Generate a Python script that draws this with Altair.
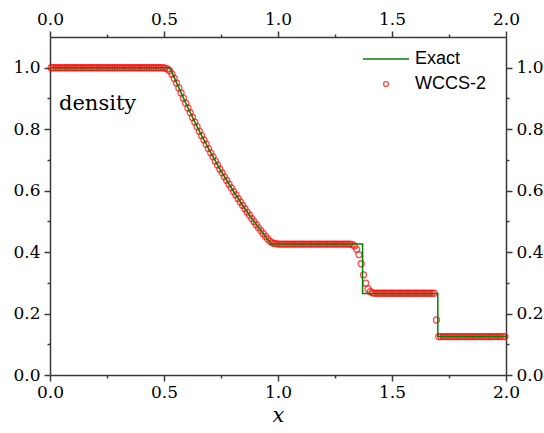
import altair as alt
import pandas as pd

# Exact Riemann solution (Sod tube, t = 0.4): breakpoints and rarefaction fan samples
exact_x = [0.0, 0.5267, 0.55, 0.60, 0.65, 0.70, 0.75, 0.80, 0.85, 0.90, 0.95,
           0.9719, 1.3710, 1.3710, 1.7009, 1.7009, 2.0]
exact_rho = [1.0, 1.0, 0.9597, 0.8775, 0.8010, 0.7300, 0.6640, 0.6030, 0.5465,
             0.4943, 0.4462, 0.4263, 0.4263, 0.2656, 0.2656, 0.125, 0.125]

# WCCS-2 cell averages on 200 uniform cells
n_cells = 200
cell_x = [round(0.005 + 0.01 * i, 3) for i in range(n_cells)]
wccs_rho = [
    1.0, 1.0, 1.0, 1.0, 1.0, 1.0, 1.0, 1.0, 1.0, 1.0,
    1.0, 1.0, 1.0, 1.0, 1.0, 1.0, 1.0, 1.0, 1.0, 1.0,
    1.0, 1.0, 1.0, 1.0, 1.0, 1.0, 1.0, 1.0, 1.0, 1.0,
    1.0, 1.0, 1.0, 1.0, 1.0, 1.0, 1.0, 1.0, 1.0, 1.0,
    1.0, 1.0, 1.0, 1.0, 1.0, 1.0, 1.0, 1.0, 1.0, 1.0,
    0.999, 0.996, 0.990, 0.979, 0.965, 0.950, 0.934, 0.918, 0.901, 0.885,
    0.869, 0.854, 0.838, 0.823, 0.808, 0.793, 0.779, 0.765, 0.751, 0.737,
    0.723, 0.710, 0.696, 0.683, 0.670, 0.658, 0.645, 0.633, 0.621, 0.609,
    0.597, 0.586, 0.574, 0.563, 0.552, 0.541, 0.530, 0.520, 0.509, 0.499,
    0.489, 0.479, 0.470, 0.460, 0.451, 0.443, 0.435, 0.430, 0.428, 0.427,
    0.426, 0.426, 0.426, 0.426, 0.426, 0.426, 0.426, 0.426, 0.426, 0.426,
    0.426, 0.426, 0.426, 0.426, 0.426, 0.426, 0.426, 0.426, 0.426, 0.426,
    0.426, 0.426, 0.426, 0.426, 0.426, 0.426, 0.426, 0.426, 0.426, 0.426,
    0.426, 0.426, 0.425, 0.420, 0.409, 0.392, 0.362, 0.326, 0.299, 0.280,
    0.271, 0.267, 0.266, 0.266, 0.266, 0.266, 0.266, 0.266, 0.266, 0.266,
    0.266, 0.266, 0.266, 0.266, 0.266, 0.266, 0.266, 0.266, 0.266, 0.266,
    0.266, 0.266, 0.266, 0.266, 0.266, 0.266, 0.266, 0.266, 0.266, 0.179,
    0.125, 0.125, 0.125, 0.125, 0.125, 0.125, 0.125, 0.125, 0.125, 0.125,
    0.125, 0.125, 0.125, 0.125, 0.125, 0.125, 0.125, 0.125, 0.125, 0.125,
    0.125, 0.125, 0.125, 0.125, 0.125, 0.125, 0.125, 0.125, 0.125, 0.125,
]

x_ticks = [0.0, 0.25, 0.5, 0.75, 1.0, 1.25, 1.5, 1.75, 2.0]
y_ticks = [0.0, 0.1, 0.2, 0.3, 0.4, 0.5, 0.6, 0.7, 0.8, 0.9, 1.0]

exact_df = pd.DataFrame({"x": exact_x, "rho": exact_rho, "order": range(len(exact_x))})
wccs_df = pd.DataFrame({"x": cell_x, "rho": wccs_rho})

SERIF = "DejaVu Serif"
SANS = "Liberation Sans"
FRAME = "#3a3a3a"
W, H = 456, 338
LABEL_SIZE = 17

x_minor = "abs(datum.value*2 - round(datum.value*2)) > 0.001"
y_minor = "abs(datum.value*5 - round(datum.value*5)) > 0.001"


def x_axis(orient, title=None):
    kw = dict(
        orient=orient, values=x_ticks, grid=False,
        labelExpr=f"{x_minor} ? '' : format(datum.value, '.1f')",
        tickSize={"condition": {"test": x_minor, "value": 3}, "value": 6},
        labelFont=SERIF, labelFontSize=LABEL_SIZE, labelColor="black",
        labelPadding=3, labelFlush=False, labelOverlap=False,
        tickColor=FRAME, tickWidth=1.5, domainColor=FRAME, domainWidth=1.5,
    )
    if title:
        kw.update(title=title, titleFont=SERIF, titleFontSize=21,
                  titleFontStyle="italic", titleFontWeight="normal",
                  titleColor="black", titlePadding=4)
    else:
        kw.update(title=None)
    return alt.Axis(**kw)


def y_axis(orient):
    return alt.Axis(
        orient=orient, values=y_ticks, grid=False, title=None,
        labelExpr=f"{y_minor} ? '' : format(datum.value, '.1f')",
        tickSize={"condition": {"test": y_minor, "value": 3}, "value": 6},
        labelFont=SERIF, labelFontSize=LABEL_SIZE, labelColor="black",
        labelPadding=4, labelOverlap=False,
        tickColor=FRAME, tickWidth=1.5, domainColor=FRAME, domainWidth=1.5,
    )


xs = alt.Scale(domain=[0, 2], nice=False, zero=False)
ys = alt.Scale(domain=[0, 1.1], nice=False, zero=False)

points = alt.Chart(wccs_df).mark_point(
    shape="circle", filled=False, color="#ff0000", strokeWidth=1.3, size=36
).encode(
    x=alt.X("x:Q", scale=xs, axis=x_axis("top")),
    y=alt.Y("rho:Q", scale=ys, axis=y_axis("right")),
)

line = alt.Chart(exact_df).mark_line(color="#008000", strokeWidth=1.5).encode(
    x=alt.X("x:Q", scale=xs, axis=x_axis("bottom", "x")),
    y=alt.Y("rho:Q", scale=ys, axis=y_axis("left")),
    order="order:Q",
)

one = pd.DataFrame({"k": [0]})

leg_line = alt.Chart(one).mark_rule(color="#008000", strokeWidth=1.5).encode(
    x=alt.value(313), x2=alt.value(359), y=alt.value(22)
)
leg_point = alt.Chart(one).mark_point(
    shape="circle", filled=False, color="#ff0000", strokeWidth=1.3, size=24
).encode(x=alt.value(336), y=alt.value(47))
leg_exact = alt.Chart(one).mark_text(
    text="Exact", font=SANS, fontSize=18, align="left", baseline="middle", color="black"
).encode(x=alt.value(365), y=alt.value(22))
leg_wccs = alt.Chart(one).mark_text(
    text="WCCS-2", font=SANS, fontSize=18, align="left", baseline="middle", color="black"
).encode(x=alt.value(365), y=alt.value(47))
label = alt.Chart(one).mark_text(
    text="density", font=SERIF, fontSize=21, align="left", baseline="alphabetic", color="black"
).encode(x=alt.value(9), y=alt.value(73))

chart = alt.layer(
    points, line, leg_line, leg_point, leg_exact, leg_wccs, label
).resolve_axis(
    x="independent", y="independent"
).properties(
    width=W, height=H,
    autosize=alt.AutoSizeParams(type="none"),
    padding={"left": 50, "top": 37, "right": 38, "bottom": 58},
    background="white",
).configure_view(stroke=None)

chart.save("out.html", embed_options={"renderer": "svg", "actions": False})
